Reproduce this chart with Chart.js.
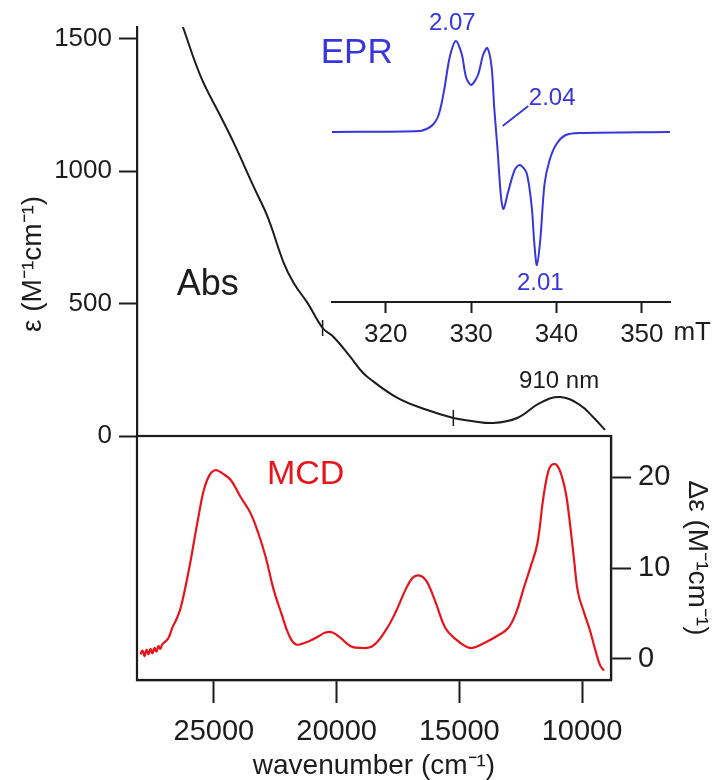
<!DOCTYPE html>
<html>
<head>
<meta charset="utf-8">
<title>Abs / MCD / EPR</title>
<script src="https://cdn.jsdelivr.net/npm/chart.js@4.4.1/dist/chart.umd.min.js"></script>
<style>
  html, body { margin: 0; padding: 0; background: #fff; }
  #wrap { position: relative; width: 715px; height: 780px; }
  #wrap canvas { position: absolute; left: 0; top: 0; }
</style>
</head>
<body>
<div id="wrap">
  <canvas id="absChart" width="715" height="780"></canvas>
  <canvas id="mcdChart" width="715" height="780"></canvas>
  <canvas id="eprChart" width="715" height="780"></canvas>
</div>
<script>
// ---- absorption (black) ----
const absWavenumber = [26504, 26260, 25528, 24715, 24187, 23374, 22805, 22154, 21748, 21179,
                       20569, 20122, 19431, 19024, 18740, 17520, 16301, 15244, 14500, 13618,
                       12642, 11707, 10894, 10081, 9553, 9065];
const absEpsilon    = [1609, 1545, 1357, 1206, 1107, 941, 827, 654, 578, 502,
                       408, 374, 298, 249, 223, 144, 98, 68, 57, 49,
                       68, 125, 147, 117, 72, 23];
// small vertical marks on the Abs trace
const spliceWavenumber = [20569, 15244];
const spliceEpsilon    = [408, 68];

// ---- MCD (red) ----
const mcdWavenumber = [27990, 27900, 27820, 27740, 27660, 27580, 27500, 27420, 27340, 27260,
                       27180, 27100, 27020, 26850, 26680, 26500, 26341, 26016, 25790, 25650,
                       25407, 25163, 24919, 24634, 24309, 23902, 23496, 23171, 22886, 22561,
                       22236, 21951, 21667, 21260, 20854, 20447, 20163, 19837, 19431, 19024,
                       18537, 18008, 17602, 17195, 16911, 16700, 16480, 16260, 15935, 15569,
                       15163, 14756, 14472, 13943, 13415, 13008, 12683, 12398, 12114, 11829,
                       11585, 11382, 11220, 11016, 10813, 10650, 10488, 10325, 10163, 9919,
                       9675, 9472, 9268, 9106];
const mcdDeltaEps   = [0.5, 0.9, 0.3, 1.0, 0.5, 1.1, 0.6, 1.2, 0.8, 1.4,
                       1.1, 1.6, 1.8, 2.3, 3.5, 4.5, 5.7, 9.8, 13.2, 15.3,
                       18.6, 20.3, 20.8, 20.4, 19.7, 17.8, 16.0, 13.7, 11.2, 7.6,
                       4.9, 2.7, 1.6, 1.8, 2.3, 2.9, 2.9, 2.3, 1.4, 1.2,
                       1.4, 3.1, 5.1, 7.6, 8.9, 9.2, 9.0, 8.2, 6.0, 3.4,
                       2.2, 1.4, 1.2, 1.8, 2.6, 3.4, 5.1, 7.6, 10.0, 12.6,
                       17.6, 20.6, 21.4, 21.3, 20.0, 18.1, 14.8, 10.9, 7.3, 5.1,
                       3.1, 1.1, -0.7, -1.3];

// ---- EPR inset (blue), signal in arbitrary units ----
const eprField  = [313.7, 324.0, 325.0, 325.6, 326.1, 326.5, 326.9, 327.5, 328.2, 328.9,
                   329.4, 330.0, 330.8, 331.4, 331.9, 332.4, 332.7, 333.1, 333.5, 333.8,
                   334.3, 335.1, 335.7, 336.5, 337.1, 337.4, 337.7, 338.1, 338.6, 339.2,
                   340.0, 341.1, 342.7, 353.3];
const eprSignal = [0, 1, 4, 8, 15, 27, 45, 75, 91, 78,
                   55, 47, 57, 77, 84, 65, 25, -18, -65, -77,
                   -61, -38, -33, -41, -75, -111, -133, -108, -52, -28,
                   -12, -3, -1, 0];

// tick labels
const wnTicks  = [25000, 20000, 15000, 10000];
const absTicks = [0, 500, 1000, 1500];
const mcdTicks = [0, 10, 20];
const eprTicks = [320, 330, 340, 350];

const FONT = "'Liberation Sans', Arial, sans-serif";
const INK = '#1c1c1c';
const RED = '#e8141c';
const BLUE = '#3636dc';

Chart.defaults.font.family = FONT;
Chart.defaults.color = INK;

function points(xs, ys) {
    return xs.map((x, i) => ({ x: x, y: ys[i] }));
}

function fixedTicks(list) {
    return function(scale) {
        scale.ticks = list.map(v => ({ value: v }));
    };
}

const plainLabel = v => String(v);

// free text and pointer lines placed in data coordinates
const notesPlugin = {
    id: 'notes',
    afterDraw(chart, args, opts) {
        const ctx = chart.ctx;
        const xs = chart.scales.x;
        const ys = chart.scales.y;
        (opts.lines || []).forEach(l => {
            ctx.save();
            ctx.strokeStyle = l.color;
            ctx.lineWidth = l.width;
            ctx.beginPath();
            ctx.moveTo(xs.getPixelForValue(l.from[0]), ys.getPixelForValue(l.from[1]));
            ctx.lineTo(xs.getPixelForValue(l.to[0]), ys.getPixelForValue(l.to[1]));
            ctx.stroke();
            ctx.restore();
        });
        (opts.texts || []).forEach(t => {
            const px = t.x !== undefined ? xs.getPixelForValue(t.x) : chart.chartArea.left + t.left;
            const py = ys.getPixelForValue(t.y);
            ctx.save();
            ctx.translate(px, py);
            if (t.rotate) ctx.rotate(t.rotate * Math.PI / 180);
            ctx.font = t.font;
            ctx.fillStyle = t.color;
            ctx.textAlign = t.align || 'center';
            ctx.textBaseline = 'middle';
            ctx.fillText(t.text, 0, 0);
            ctx.restore();
        });
    }
};

// box around the MCD panel
const framePlugin = {
    id: 'frame',
    afterDraw(chart) {
        const a = chart.chartArea;
        const ctx = chart.ctx;
        ctx.save();
        ctx.strokeStyle = INK;
        ctx.lineWidth = 2.2;
        ctx.strokeRect(a.left, a.top, a.right - a.left, a.bottom - a.top);
        ctx.restore();
    }
};

function loadAbsChart() {
    new Chart(document.getElementById('absChart'), {
        type: 'line',
        data: {
            datasets: [{
                data: points(absWavenumber, absEpsilon),
                borderColor: INK,
                borderWidth: 2,
                pointRadius: 0,
                tension: 0.4
            }, {
                data: points(spliceWavenumber, spliceEpsilon),
                showLine: false,
                pointStyle: 'line',
                rotation: 90,
                pointRadius: 8,
                borderColor: INK,
                borderWidth: 1.5
            }]
        },
        options: {
            responsive: false,
            animation: false,
            layout: { padding: { left: 0, top: 27, right: 104, bottom: 344 } },
            plugins: {
                legend: { display: false },
                tooltip: { enabled: false },
                notes: {
                    texts: [
                        { text: 'Abs', x: 25244, y: 570, font: '36px ' + FONT, color: INK },
                        { text: '910 nm', x: 10935, y: 208, font: '24px ' + FONT, color: INK },
                        { text: 'ε (M⁻¹cm⁻¹)', left: -104, y: 650, rotate: -90, font: '28px ' + FONT, color: INK }
                    ]
                }
            },
            scales: {
                x: { type: 'linear', reverse: true, min: 8821, max: 28130, display: false },
                y: {
                    type: 'linear', position: 'left', min: 0, max: 1545,
                    afterBuildTicks: fixedTicks(absTicks),
                    afterFit: s => { s.width = 137; },
                    ticks: { font: { size: 26 }, padding: 7, color: INK, callback: plainLabel },
                    grid: { drawOnChartArea: false, tickLength: 18, tickColor: INK, tickWidth: 2 },
                    border: { color: INK, width: 2.2 }
                }
            }
        },
        plugins: [notesPlugin]
    });
}

function loadMcdChart() {
    new Chart(document.getElementById('mcdChart'), {
        type: 'line',
        data: {
            datasets: [{
                data: points(mcdWavenumber, mcdDeltaEps),
                borderColor: RED,
                borderWidth: 2.2,
                pointRadius: 0,
                tension: 0.4
            }]
        },
        options: {
            responsive: false,
            animation: false,
            layout: { padding: { left: 137, top: 436, right: 0, bottom: 0 } },
            plugins: {
                legend: { display: false },
                tooltip: { enabled: false },
                notes: {
                    texts: [
                        { text: 'MCD', x: 21260, y: 20.3, font: '34px ' + FONT, color: RED }
                    ]
                }
            },
            scales: {
                x: {
                    type: 'linear', reverse: true, min: 8821, max: 28130,
                    afterBuildTicks: fixedTicks(wnTicks),
                    afterFit: s => { s.height = 100; },
                    ticks: { font: { size: 29 }, padding: 12, color: INK, maxRotation: 0, callback: plainLabel },
                    grid: { drawOnChartArea: false, tickLength: 23, tickColor: INK, tickWidth: 2 },
                    border: { color: INK, width: 2.2 },
                    title: {
                        display: true, text: 'wavenumber (cm⁻¹)', color: INK,
                        font: { size: 28, lineHeight: 1.0 }, padding: { top: 0, bottom: 0 }
                    }
                },
                y: {
                    type: 'linear', position: 'right', min: -2.33, max: 24.55,
                    afterBuildTicks: fixedTicks(mcdTicks),
                    afterFit: s => { s.width = 104; },
                    ticks: { font: { size: 29 }, padding: 7, color: INK, callback: plainLabel },
                    grid: { drawOnChartArea: false, tickLength: 20, tickColor: INK, tickWidth: 2 },
                    border: { color: INK, width: 2.2 },
                    title: {
                        display: true, text: 'Δε (M⁻¹cm⁻¹)', color: INK,
                        font: { size: 28, lineHeight: 1.0 }, padding: { top: 4, bottom: 0 }
                    }
                }
            }
        },
        plugins: [framePlugin, notesPlugin]
    });
}

function loadEprChart() {
    new Chart(document.getElementById('eprChart'), {
        type: 'line',
        data: {
            datasets: [{
                data: points(eprField, eprSignal),
                borderColor: BLUE,
                borderWidth: 2,
                pointRadius: 0,
                tension: 0.3
            }]
        },
        options: {
            responsive: false,
            animation: false,
            layout: { padding: { left: 332, top: 25, right: 45, bottom: 428 } },
            plugins: {
                legend: { display: false },
                tooltip: { enabled: false },
                notes: {
                    texts: [
                        { text: 'EPR', x: 316.6, y: 79, font: '35px ' + FONT, color: BLUE },
                        { text: '2.07', x: 327.8, y: 109, font: '24px ' + FONT, color: BLUE },
                        { text: '2.04', x: 339.5, y: 34, font: '24px ' + FONT, color: BLUE },
                        { text: '2.01', x: 338.1, y: -151, font: '24px ' + FONT, color: BLUE },
                        { text: 'mT', x: 353.7, y: -201, align: 'left', font: '26px ' + FONT, color: INK }
                    ],
                    lines: [
                        { from: [333.7, 6], to: [336.7, 26], color: BLUE, width: 1.8 }
                    ]
                }
            },
            scales: {
                x: {
                    type: 'linear', min: 313.7, max: 353.3,
                    afterBuildTicks: fixedTicks(eprTicks),
                    afterFit: s => { s.height = 50; },
                    ticks: { font: { size: 26 }, padding: 6, color: INK, maxRotation: 0, callback: plainLabel },
                    grid: { drawOnChartArea: false, tickLength: 11, tickColor: INK, tickWidth: 2 },
                    border: { color: INK, width: 2 }
                },
                y: { type: 'linear', min: -170, max: 107, display: false }
            }
        },
        plugins: [notesPlugin]
    });
}

document.addEventListener('DOMContentLoaded', function() {
    loadAbsChart();
    loadMcdChart();
    loadEprChart();
});
</script>
</body>
</html>
